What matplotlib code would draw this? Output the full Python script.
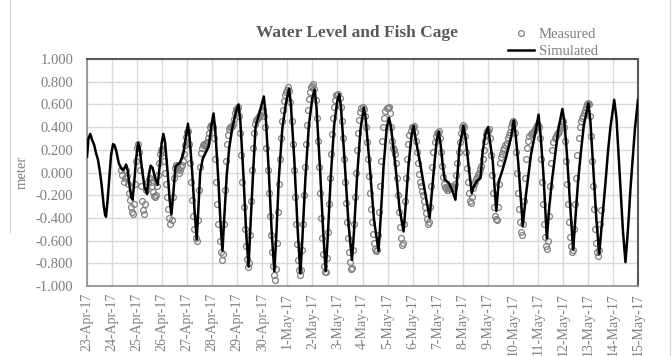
#!/usr/bin/env python3
# -*- coding: utf-8 -*-

import numpy as np
import matplotlib
matplotlib.use('Agg')
import matplotlib.pyplot as plt
from matplotlib.lines import Line2D

plt.rcParams['font.family'] = ['Liberation Serif', 'DejaVu Serif']

# x positions are days after 23-Apr-17 00:00
date_labels = ['23-Apr-17', '24-Apr-17', '25-Apr-17', '26-Apr-17', '27-Apr-17',
               '28-Apr-17', '29-Apr-17', '30-Apr-17', '1-May-17', '2-May-17',
               '3-May-17', '4-May-17', '5-May-17', '6-May-17', '7-May-17',
               '8-May-17', '9-May-17', '10-May-17', '11-May-17', '12-May-17',
               '13-May-17', '14-May-17', '15-May-17']

y_ticks = [-1.0, -0.8, -0.6, -0.4, -0.2, 0.0, 0.2, 0.4, 0.6, 0.8, 1.0]

# Simulated water level
sim_day = [0.00, 0.06, 0.13, 0.20, 0.29, 0.36, 0.43, 0.50, 0.58, 0.66, 0.72, 0.76, 0.82, 0.90, 0.96,
           1.04, 1.10, 1.18, 1.27, 1.36, 1.43, 1.50, 1.56, 1.62, 1.70, 1.77, 1.82, 1.88, 1.96,
           2.04, 2.10, 2.20, 2.30, 2.40, 2.47, 2.54, 2.62, 2.72, 2.82, 2.90, 2.98,
           3.05, 3.12, 3.22, 3.30, 3.37, 3.44, 3.53, 3.62, 3.72, 3.84, 3.94,
           4.03, 4.10, 4.20, 4.30, 4.38, 4.44, 4.52, 4.62, 4.73, 4.86, 4.96,
           5.05, 5.12, 5.24, 5.34, 5.41, 5.48, 5.58, 5.68, 5.80, 5.94,
           6.05, 6.12, 6.24, 6.36, 6.45, 6.52, 6.62, 6.73, 6.90,
           7.06, 7.13, 7.26, 7.38, 7.48, 7.56, 7.66, 7.80, 7.95,
           8.07, 8.14, 8.28, 8.41, 8.52, 8.60, 8.72, 8.86, 9.00,
           9.09, 9.16, 9.30, 9.43, 9.53, 9.61, 9.73, 9.87, 10.00,
           10.07, 10.14, 10.28, 10.44, 10.58, 10.66, 10.78, 10.92,
           11.05, 11.12, 11.28, 11.46, 11.64, 11.72, 11.84, 11.97,
           12.06, 12.14, 12.31, 12.48, 12.64, 12.72, 12.84, 12.96,
           13.04, 13.12, 13.31, 13.51, 13.68, 13.76, 13.86, 13.96,
           14.04, 14.12, 14.20, 14.28, 14.44, 14.57, 14.71, 14.79, 14.87,
           15.03, 15.12, 15.24, 15.36, 15.45, 15.58, 15.71, 15.80, 15.90,
           16.01, 16.10, 16.20, 16.34, 16.44, 16.60, 16.73, 16.93,
           17.04, 17.12, 17.22, 17.40, 17.53, 17.73, 17.89,
           18.03, 18.12, 18.22, 18.36, 18.46, 18.56, 18.66, 18.82,
           18.98, 19.06, 19.16, 19.28, 19.41, 19.50, 19.61, 19.72, 19.84,
           20.02, 20.10, 20.22, 20.34, 20.45, 20.56, 20.69, 20.80, 20.90,
           21.05, 21.14, 21.28, 21.40, 21.50, 21.60, 21.70, 21.80, 21.88, 22.00]
sim_level = [0.14, 0.30, 0.34, 0.29, 0.24, 0.17, 0.12, 0.03, -0.10, -0.28, -0.37, -0.39, -0.25, -0.02, 0.15,
             0.25, 0.24, 0.18, 0.08, 0.04, 0.02, 0.04, 0.07, 0.02, -0.12, -0.22, -0.24, -0.10, 0.12,
             0.26, 0.22, 0.02, -0.13, -0.19, -0.02, 0.06, 0.04, -0.05, -0.11, 0.05, 0.26,
             0.34, 0.26, 0.00, -0.24, -0.37, -0.20, 0.05, 0.07, 0.09, 0.16, 0.30,
             0.43, 0.30, 0.00, -0.35, -0.59, -0.35, 0.00, 0.12, 0.17, 0.23, 0.40,
             0.52, 0.38, -0.05, -0.48, -0.69, -0.40, -0.02, 0.22, 0.39, 0.53,
             0.60, 0.46, 0.00, -0.55, -0.83, -0.50, -0.05, 0.40, 0.54,
             0.67, 0.52, 0.00, -0.55, -0.87, -0.55, -0.05, 0.39, 0.62,
             0.74, 0.60, 0.10, -0.50, -0.89, -0.58, -0.05, 0.42, 0.66,
             0.73, 0.58, 0.05, -0.52, -0.87, -0.58, -0.05, 0.42, 0.64,
             0.69, 0.58, 0.12, -0.45, -0.77, -0.52, -0.05, 0.38,
             0.57, 0.49, 0.08, -0.42, -0.69, -0.42, 0.05, 0.40,
             0.48, 0.40, 0.07, -0.32, -0.52, -0.30, 0.07, 0.33,
             0.41, 0.30, 0.07, -0.19, -0.40, -0.20, 0.05, 0.28,
             0.36, 0.25, 0.07, -0.06, -0.09, -0.15, -0.24, -0.02, 0.22,
             0.41, 0.30, 0.05, -0.18, -0.12, -0.07, -0.05, 0.19, 0.33,
             0.40, 0.26, 0.10, -0.34, -0.08, 0.03, 0.13, 0.31,
             0.46, 0.32, 0.08, -0.47, -0.19, 0.16, 0.34,
             0.51, 0.30, 0.00, -0.58, -0.30, -0.08, 0.10, 0.38,
             0.56, 0.45, 0.17, -0.25, -0.68, -0.40, -0.07, 0.18, 0.42,
             0.61, 0.45, 0.02, -0.42, -0.72, -0.45, -0.12, 0.18, 0.40,
             0.64, 0.48, -0.05, -0.52, -0.79, -0.50, -0.14, 0.15, 0.39, 0.64]

# Measured water level, hourly, starting 24-Apr-17 09:00
meas_start_day = 1 + 9 / 24
meas_level = [
    0.02, -0.02, -0.08, -0.05, 0.02, -0.03, -0.10, -0.18, -0.24, -0.30, -0.35, -0.37, -0.28, -0.10, 0.10,
    0.22, 0.25, 0.18, 0.02, -0.12, -0.25, -0.33, -0.37, -0.28, -0.15, -0.08, -0.06, -0.05, -0.08, -0.12, -0.17, -0.21, -0.22, -0.20, -0.12, -0.02, 0.08, 0.16, 0.20,
    0.21, 0.18, 0.10, 0.00, -0.10, -0.22, -0.32, -0.40, -0.45, -0.42, -0.22, -0.05, 0.04, 0.07, 0.06, 0.03, 0.00, 0.02, 0.05, 0.07, 0.10, 0.16, 0.24, 0.31,
    0.36, 0.37, 0.25, 0.08, -0.08, -0.24, -0.38, -0.50, -0.58, -0.60, -0.42, -0.15, 0.05, 0.17, 0.22, 0.24, 0.25, 0.24, 0.26, 0.27, 0.30, 0.35, 0.40, 0.42,
    0.42, 0.40, 0.30, 0.12, -0.08, -0.28, -0.45, -0.60, -0.70, -0.77, -0.72, -0.45, -0.15, 0.10, 0.25, 0.33, 0.38, 0.40, 0.40, 0.41, 0.43, 0.47, 0.52, 0.56,
    0.56, 0.58, 0.50, 0.35, 0.15, -0.08, -0.30, -0.50, -0.65, -0.76, -0.83, -0.80, -0.55, -0.25, 0.02, 0.22, 0.35, 0.43, 0.46, 0.47, 0.48, 0.50, 0.51, 0.53,
    0.54, 0.55, 0.50, 0.40, 0.22, 0.02, -0.18, -0.38, -0.55, -0.70, -0.82, -0.90, -0.95, -0.85, -0.62, -0.35, -0.10, 0.12, 0.30, 0.45, 0.55, 0.63, 0.68, 0.71,
    0.73, 0.75, 0.72, 0.62, 0.45, 0.25, 0.02, -0.22, -0.45, -0.63, -0.77, -0.86, -0.90, -0.86, -0.68, -0.45, -0.20, 0.05, 0.25, 0.42, 0.55, 0.65, 0.71, 0.75,
    0.76, 0.78, 0.74, 0.64, 0.48, 0.28, 0.05, -0.18, -0.40, -0.58, -0.72, -0.82, -0.88, -0.88, -0.75, -0.52, -0.28, -0.05, 0.16, 0.34, 0.48, 0.58, 0.64, 0.68,
    0.68, 0.69, 0.66, 0.58, 0.45, 0.30, 0.12, -0.08, -0.27, -0.44, -0.58, -0.70, -0.79, -0.85, -0.84, -0.68, -0.45, -0.22, 0.00, 0.20, 0.35, 0.46, 0.53, 0.57,
    0.58, 0.56, 0.50, 0.40, 0.27, 0.12, -0.03, -0.18, -0.32, -0.44, -0.54, -0.62, -0.67, -0.69, -0.68, -0.55, -0.35, -0.12, 0.10, 0.28, 0.40, 0.48, 0.54, 0.57,
    0.57, 0.58, 0.52, 0.40, 0.28, 0.22, 0.20, 0.16, 0.08, -0.05, -0.20, -0.35, -0.48, -0.58, -0.64, -0.62, -0.45, -0.25, -0.05, 0.12, 0.25, 0.33, 0.37, 0.40,
    0.40, 0.41, 0.36, 0.28, 0.18, 0.08, -0.01, -0.08, -0.12, -0.16, -0.20, -0.25, -0.30, -0.36, -0.41, -0.45, -0.44, -0.30, -0.12, 0.05, 0.18, 0.27, 0.32, 0.35,
    0.35, 0.37, 0.30, 0.18, 0.06, -0.04, -0.10, -0.13, -0.14, -0.15, -0.15, -0.14, -0.13, -0.12, -0.12, -0.13, -0.14, -0.10, -0.02, 0.08, 0.18, 0.27, 0.35, 0.40,
    0.42, 0.40, 0.32, 0.18, 0.04, -0.08, -0.18, -0.25, -0.27, -0.22, -0.14, -0.10, -0.08, -0.06, -0.04, -0.02, 0.00, 0.03, 0.06, 0.12, 0.20, 0.28, 0.34, 0.37,
    0.37, 0.38, 0.30, 0.15, -0.02, -0.18, -0.30, -0.38, -0.41, -0.42, -0.30, -0.10, 0.08, 0.14, 0.16, 0.20, 0.22, 0.24, 0.26, 0.30, 0.33, 0.36, 0.40, 0.44,
    0.45, 0.44, 0.35, 0.18, 0.00, -0.18, -0.32, -0.44, -0.52, -0.55, -0.45, -0.25, -0.05, 0.12, 0.22, 0.28, 0.32, 0.34, 0.35, 0.36, 0.37, 0.38, 0.40, 0.42,
    0.42, 0.40, 0.30, 0.12, -0.08, -0.28, -0.45, -0.57, -0.65, -0.67, -0.60, -0.38, -0.12, 0.08, 0.20, 0.27, 0.30, 0.32, 0.34, 0.35, 0.37, 0.40, 0.43, 0.45,
    0.45, 0.40, 0.28, 0.10, -0.10, -0.28, -0.44, -0.57, -0.65, -0.70, -0.68, -0.50, -0.28, -0.05, 0.15, 0.30, 0.40, 0.45, 0.48, 0.50, 0.52, 0.55, 0.58, 0.60,
    0.61, 0.60, 0.50, 0.32, 0.10, -0.12, -0.32, -0.50, -0.62, -0.70, -0.74, -0.68, -0.45, -0.33,
]
meas_day = meas_start_day + np.arange(len(meas_level)) / 24

#%% Plotting
fig = plt.figure(figsize=(6.72, 3.56), dpi=100)
ax = fig.add_axes([87 / 672, 1 - 286 / 356, 551 / 672, 227 / 356])

ax.plot(meas_day, meas_level, linestyle='none', marker='o', markersize=4.2,
        markerfacecolor='none', markeredgecolor='#808080', markeredgewidth=0.9,
        zorder=2, label='Measured')
ax.plot(sim_day, sim_level, color='black', linewidth=1.8, zorder=3, label='Simulated')

ax.set_xlim(0, len(date_labels) - 1)
ax.set_ylim(-1.0, 1.0)
ax.set_xticks(range(len(date_labels)))
ax.set_xticklabels(date_labels, rotation=90, fontsize=10, color='#7f7f7f')
ax.set_yticks(y_ticks)
ax.set_yticklabels(['%.3f' % v for v in y_ticks], fontsize=10.5, color='#7f7f7f')
ax.tick_params(axis='both', length=0)
ax.tick_params(axis='y', pad=10)
ax.tick_params(axis='x', pad=5)
ax.grid(True, color='#d9d9d9', linewidth=1.0)
ax.set_axisbelow(True)
for side in ['top', 'right']:
    ax.spines[side].set_color('#595959')
    ax.spines[side].set_linewidth(1.5)
for side in ['left', 'bottom']:
    ax.spines[side].set_color('#8c8c8c')
    ax.spines[side].set_linewidth(1.2)

fig.text(357 / 672, 1 - 33 / 356, 'Water Level and Fish Cage', ha='center', va='center',
         fontsize=12.5, fontweight='bold', color='#595959')
fig.text(22 / 672, 1 - 172 / 356, 'meter', rotation=90, ha='center', va='center',
         fontsize=10.5, color='#7f7f7f')

fig.legend(loc='upper left', bbox_to_anchor=(508 / 672, 1 - 28 / 356), frameon=False,
           fontsize=10.5, labelcolor='#7f7f7f', handlelength=1.8, handletextpad=0.3,
           labelspacing=0.25, borderpad=0, borderaxespad=0)

# thin outer border lines of the original picture
fig.add_artist(Line2D([9.5 / 672, 9.5 / 672], [1, 1 - 232 / 356], color='#cfcfcf', linewidth=0.8))
fig.add_artist(Line2D([669.5 / 672, 669.5 / 672], [1, 0], color='#cfcfcf', linewidth=0.8))

fig.savefig('out.png', dpi=100)
